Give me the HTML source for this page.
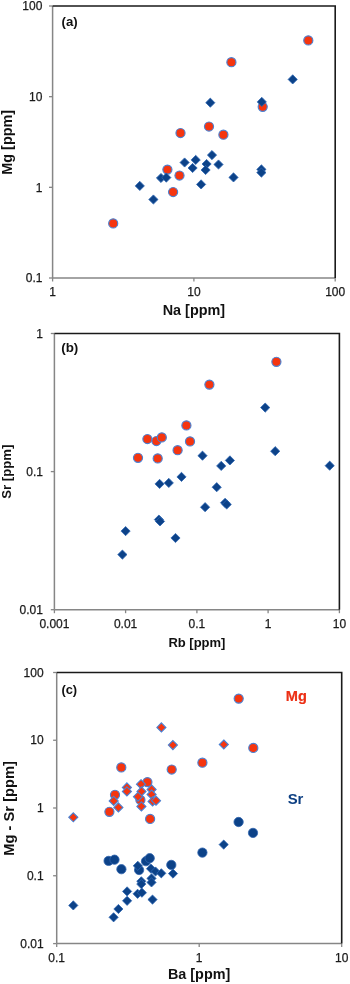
<!DOCTYPE html>
<html><head><meta charset="utf-8"><style>
html,body{margin:0;padding:0;background:#fff;}
body{width:350px;height:984px;overflow:hidden;}
svg{display:block;will-change:transform;}
.t{font-family:"Liberation Sans",sans-serif;font-size:12px;fill:#1a1a1a;stroke:#1a1a1a;stroke-width:0.25px;}
.b{font-family:"Liberation Sans",sans-serif;font-weight:bold;fill:#111;}
</style></head><body>
<svg width="350" height="984" viewBox="0 0 350 984">
<rect width="350" height="984" fill="#fff"/>
<path d="M52.6 6V278M52.6 278H335.2" stroke="#868686" stroke-width="1.5" fill="none"/>
<path d="M49.0 6H52.6" stroke="#868686" stroke-width="1.3"/>
<path d="M49.0 96.67H52.6" stroke="#868686" stroke-width="1.3"/>
<path d="M49.0 187.33H52.6" stroke="#868686" stroke-width="1.3"/>
<path d="M49.0 278H52.6" stroke="#868686" stroke-width="1.3"/>
<path d="M52.6 278V281.5" stroke="#868686" stroke-width="1.3"/>
<path d="M193.9 278V281.5" stroke="#868686" stroke-width="1.3"/>
<path d="M335.2 278V281.5" stroke="#868686" stroke-width="1.3"/>
<path d="M52.6 6H335.2V278" stroke="#1a1a1a" stroke-width="1.6" fill="none"/>
<text x="42.4" y="10.2" text-anchor="end" class="t">100</text>
<text x="42.4" y="100.87" text-anchor="end" class="t">10</text>
<text x="42.4" y="191.53" text-anchor="end" class="t">1</text>
<text x="42.4" y="282.2" text-anchor="end" class="t">0.1</text>
<text x="52.6" y="296.3" text-anchor="middle" class="t">1</text>
<text x="193.9" y="296.3" text-anchor="middle" class="t">10</text>
<text x="335.2" y="296.3" text-anchor="middle" class="t">100</text>
<circle cx="113.2" cy="223.4" r="4.55" fill="#F5350F" stroke="#4A80D2" stroke-width="1.15"/><circle cx="167.4" cy="169.6" r="4.55" fill="#F5350F" stroke="#4A80D2" stroke-width="1.15"/><circle cx="173.1" cy="192.0" r="4.55" fill="#F5350F" stroke="#4A80D2" stroke-width="1.15"/><circle cx="179.5" cy="175.5" r="4.55" fill="#F5350F" stroke="#4A80D2" stroke-width="1.15"/><circle cx="180.5" cy="133.0" r="4.55" fill="#F5350F" stroke="#4A80D2" stroke-width="1.15"/><circle cx="209.0" cy="126.5" r="4.55" fill="#F5350F" stroke="#4A80D2" stroke-width="1.15"/><circle cx="223.4" cy="134.7" r="4.55" fill="#F5350F" stroke="#4A80D2" stroke-width="1.15"/><circle cx="231.4" cy="62.2" r="4.55" fill="#F5350F" stroke="#4A80D2" stroke-width="1.15"/><circle cx="262.7" cy="106.8" r="4.55" fill="#F5350F" stroke="#4A80D2" stroke-width="1.15"/><circle cx="308.3" cy="40.4" r="4.55" fill="#F5350F" stroke="#4A80D2" stroke-width="1.15"/><path d="M139.8 181.30L144.40 185.9L139.8 190.50L135.20 185.9Z" fill="#0C4288" stroke="#2D66B2" stroke-width="0.8"/><path d="M153.4 194.90L158.00 199.5L153.4 204.10L148.80 199.5Z" fill="#0C4288" stroke="#2D66B2" stroke-width="0.8"/><path d="M161.0 173.40L165.60 178.0L161.0 182.60L156.40 178.0Z" fill="#0C4288" stroke="#2D66B2" stroke-width="0.8"/><path d="M166.3 173.00L170.90 177.6L166.3 182.20L161.70 177.6Z" fill="#0C4288" stroke="#2D66B2" stroke-width="0.8"/><path d="M184.6 157.90L189.20 162.5L184.6 167.10L180.00 162.5Z" fill="#0C4288" stroke="#2D66B2" stroke-width="0.8"/><path d="M195.7 155.30L200.30 159.9L195.7 164.50L191.10 159.9Z" fill="#0C4288" stroke="#2D66B2" stroke-width="0.8"/><path d="M192.6 163.40L197.20 168.0L192.6 172.60L188.00 168.0Z" fill="#0C4288" stroke="#2D66B2" stroke-width="0.8"/><path d="M206.6 159.40L211.20 164.0L206.6 168.60L202.00 164.0Z" fill="#0C4288" stroke="#2D66B2" stroke-width="0.8"/><path d="M205.6 165.40L210.20 170.0L205.6 174.60L201.00 170.0Z" fill="#0C4288" stroke="#2D66B2" stroke-width="0.8"/><path d="M212.0 150.50L216.60 155.1L212.0 159.70L207.40 155.1Z" fill="#0C4288" stroke="#2D66B2" stroke-width="0.8"/><path d="M218.5 159.90L223.10 164.5L218.5 169.10L213.90 164.5Z" fill="#0C4288" stroke="#2D66B2" stroke-width="0.8"/><path d="M233.5 172.80L238.10 177.4L233.5 182.00L228.90 177.4Z" fill="#0C4288" stroke="#2D66B2" stroke-width="0.8"/><path d="M201.1 179.80L205.70 184.4L201.1 189.00L196.50 184.4Z" fill="#0C4288" stroke="#2D66B2" stroke-width="0.8"/><path d="M210.3 98.10L214.90 102.7L210.3 107.30L205.70 102.7Z" fill="#0C4288" stroke="#2D66B2" stroke-width="0.8"/><path d="M292.7 74.80L297.30 79.4L292.7 84.00L288.10 79.4Z" fill="#0C4288" stroke="#2D66B2" stroke-width="0.8"/><path d="M261.4 164.80L266.00 169.4L261.4 174.00L256.80 169.4Z" fill="#0C4288" stroke="#2D66B2" stroke-width="0.8"/><path d="M261.4 168.00L266.00 172.6L261.4 177.20L256.80 172.6Z" fill="#0C4288" stroke="#2D66B2" stroke-width="0.8"/><path d="M261.8 97.30L266.40 101.9L261.8 106.50L257.20 101.9Z" fill="#0C4288" stroke="#2D66B2" stroke-width="0.8"/>
<path d="M54.4 333.5V609.7M54.4 609.7H339.4" stroke="#868686" stroke-width="1.5" fill="none"/>
<path d="M50.8 333.5H54.4" stroke="#868686" stroke-width="1.3"/>
<path d="M50.8 471.6H54.4" stroke="#868686" stroke-width="1.3"/>
<path d="M50.8 609.7H54.4" stroke="#868686" stroke-width="1.3"/>
<path d="M54.4 609.7V613.2" stroke="#868686" stroke-width="1.3"/>
<path d="M125.6 609.7V613.2" stroke="#868686" stroke-width="1.3"/>
<path d="M196.9 609.7V613.2" stroke="#868686" stroke-width="1.3"/>
<path d="M268.1 609.7V613.2" stroke="#868686" stroke-width="1.3"/>
<path d="M339.4 609.7V613.2" stroke="#868686" stroke-width="1.3"/>
<path d="M54.4 333.5H339.4V609.7" stroke="#1a1a1a" stroke-width="1.6" fill="none"/>
<text x="42.9" y="337.7" text-anchor="end" class="t">1</text>
<text x="42.9" y="475.8" text-anchor="end" class="t">0.1</text>
<text x="42.9" y="613.9000000000001" text-anchor="end" class="t">0.01</text>
<text x="54.4" y="627.5" text-anchor="middle" class="t">0.001</text>
<text x="125.6" y="627.5" text-anchor="middle" class="t">0.01</text>
<text x="196.9" y="627.5" text-anchor="middle" class="t">0.1</text>
<text x="268.1" y="627.5" text-anchor="middle" class="t">1</text>
<text x="339.4" y="627.5" text-anchor="middle" class="t">10</text>
<path d="M122.4 550.00L127.00 554.6L122.4 559.20L117.80 554.6Z" fill="#0C4288" stroke="#2D66B2" stroke-width="0.8"/><path d="M125.6 526.50L130.20 531.1L125.6 535.70L121.00 531.1Z" fill="#0C4288" stroke="#2D66B2" stroke-width="0.8"/><path d="M158.9 515.00L163.50 519.6L158.9 524.20L154.30 519.6Z" fill="#0C4288" stroke="#2D66B2" stroke-width="0.8"/><path d="M160.0 516.80L164.60 521.4L160.0 526.00L155.40 521.4Z" fill="#0C4288" stroke="#2D66B2" stroke-width="0.8"/><path d="M175.5 533.40L180.10 538.0L175.5 542.60L170.90 538.0Z" fill="#0C4288" stroke="#2D66B2" stroke-width="0.8"/><path d="M159.6 479.30L164.20 483.9L159.6 488.50L155.00 483.9Z" fill="#0C4288" stroke="#2D66B2" stroke-width="0.8"/><path d="M168.8 478.30L173.40 482.9L168.8 487.50L164.20 482.9Z" fill="#0C4288" stroke="#2D66B2" stroke-width="0.8"/><path d="M181.5 472.30L186.10 476.9L181.5 481.50L176.90 476.9Z" fill="#0C4288" stroke="#2D66B2" stroke-width="0.8"/><path d="M202.5 451.10L207.10 455.7L202.5 460.30L197.90 455.7Z" fill="#0C4288" stroke="#2D66B2" stroke-width="0.8"/><path d="M221.2 461.30L225.80 465.9L221.2 470.50L216.60 465.9Z" fill="#0C4288" stroke="#2D66B2" stroke-width="0.8"/><path d="M229.9 455.80L234.50 460.4L229.9 465.00L225.30 460.4Z" fill="#0C4288" stroke="#2D66B2" stroke-width="0.8"/><path d="M216.7 482.60L221.30 487.2L216.7 491.80L212.10 487.2Z" fill="#0C4288" stroke="#2D66B2" stroke-width="0.8"/><path d="M205.1 502.60L209.70 507.2L205.1 511.80L200.50 507.2Z" fill="#0C4288" stroke="#2D66B2" stroke-width="0.8"/><path d="M225.1 498.20L229.70 502.8L225.1 507.40L220.50 502.8Z" fill="#0C4288" stroke="#2D66B2" stroke-width="0.8"/><path d="M226.7 499.90L231.30 504.5L226.7 509.10L222.10 504.5Z" fill="#0C4288" stroke="#2D66B2" stroke-width="0.8"/><path d="M265.2 403.00L269.80 407.6L265.2 412.20L260.60 407.6Z" fill="#0C4288" stroke="#2D66B2" stroke-width="0.8"/><path d="M275.2 446.60L279.80 451.2L275.2 455.80L270.60 451.2Z" fill="#0C4288" stroke="#2D66B2" stroke-width="0.8"/><path d="M329.7 461.10L334.30 465.7L329.7 470.30L325.10 465.7Z" fill="#0C4288" stroke="#2D66B2" stroke-width="0.8"/><circle cx="138.0" cy="457.8" r="4.55" fill="#F5350F" stroke="#4A80D2" stroke-width="1.15"/><circle cx="147.4" cy="439.0" r="4.55" fill="#F5350F" stroke="#4A80D2" stroke-width="1.15"/><circle cx="156.4" cy="441.0" r="4.55" fill="#F5350F" stroke="#4A80D2" stroke-width="1.15"/><circle cx="161.8" cy="437.4" r="4.55" fill="#F5350F" stroke="#4A80D2" stroke-width="1.15"/><circle cx="157.7" cy="458.4" r="4.55" fill="#F5350F" stroke="#4A80D2" stroke-width="1.15"/><circle cx="177.6" cy="450.2" r="4.55" fill="#F5350F" stroke="#4A80D2" stroke-width="1.15"/><circle cx="186.4" cy="425.4" r="4.55" fill="#F5350F" stroke="#4A80D2" stroke-width="1.15"/><circle cx="190.0" cy="441.4" r="4.55" fill="#F5350F" stroke="#4A80D2" stroke-width="1.15"/><circle cx="209.4" cy="384.6" r="4.55" fill="#F5350F" stroke="#4A80D2" stroke-width="1.15"/><circle cx="276.4" cy="361.8" r="4.55" fill="#F5350F" stroke="#4A80D2" stroke-width="1.15"/>
<path d="M56.7 672.5V943.6M56.7 943.6H341.7" stroke="#868686" stroke-width="1.5" fill="none"/>
<path d="M53.1 672.5H56.7" stroke="#868686" stroke-width="1.3"/>
<path d="M53.1 740.25H56.7" stroke="#868686" stroke-width="1.3"/>
<path d="M53.1 808H56.7" stroke="#868686" stroke-width="1.3"/>
<path d="M53.1 875.75H56.7" stroke="#868686" stroke-width="1.3"/>
<path d="M53.1 943.6H56.7" stroke="#868686" stroke-width="1.3"/>
<path d="M56.7 943.6V947.1" stroke="#868686" stroke-width="1.3"/>
<path d="M199.2 943.6V947.1" stroke="#868686" stroke-width="1.3"/>
<path d="M341.7 943.6V947.1" stroke="#868686" stroke-width="1.3"/>
<path d="M56.7 672.5H341.7V943.6" stroke="#1a1a1a" stroke-width="1.6" fill="none"/>
<text x="43.6" y="676.7" text-anchor="end" class="t">100</text>
<text x="43.6" y="744.45" text-anchor="end" class="t">10</text>
<text x="43.6" y="812.2" text-anchor="end" class="t">1</text>
<text x="43.6" y="879.95" text-anchor="end" class="t">0.1</text>
<text x="43.6" y="947.8000000000001" text-anchor="end" class="t">0.01</text>
<text x="56.7" y="962.2" text-anchor="middle" class="t">0.1</text>
<text x="199.2" y="962.2" text-anchor="middle" class="t">1</text>
<text x="341.7" y="962.2" text-anchor="middle" class="t">10</text>
<circle cx="108.6" cy="860.9" r="4.65" fill="#0C4288" stroke="#3064AE" stroke-width="0.8"/><circle cx="114.5" cy="859.7" r="4.65" fill="#0C4288" stroke="#3064AE" stroke-width="0.8"/><circle cx="121.4" cy="869.2" r="4.65" fill="#0C4288" stroke="#3064AE" stroke-width="0.8"/><circle cx="146.0" cy="861.2" r="4.65" fill="#0C4288" stroke="#3064AE" stroke-width="0.8"/><circle cx="149.7" cy="858.2" r="4.65" fill="#0C4288" stroke="#3064AE" stroke-width="0.8"/><circle cx="139.1" cy="870.0" r="4.65" fill="#0C4288" stroke="#3064AE" stroke-width="0.8"/><circle cx="171.3" cy="864.9" r="4.65" fill="#0C4288" stroke="#3064AE" stroke-width="0.8"/><circle cx="202.4" cy="852.6" r="4.65" fill="#0C4288" stroke="#3064AE" stroke-width="0.8"/><circle cx="238.6" cy="822.0" r="4.65" fill="#0C4288" stroke="#3064AE" stroke-width="0.8"/><circle cx="253.0" cy="832.9" r="4.65" fill="#0C4288" stroke="#3064AE" stroke-width="0.8"/><path d="M73.3 900.80L77.90 905.4L73.3 910.00L68.70 905.4Z" fill="#0C4288" stroke="#2D66B2" stroke-width="0.8"/><path d="M113.6 912.70L118.20 917.3L113.6 921.90L109.00 917.3Z" fill="#0C4288" stroke="#2D66B2" stroke-width="0.8"/><path d="M118.4 904.40L123.00 909.0L118.4 913.60L113.80 909.0Z" fill="#0C4288" stroke="#2D66B2" stroke-width="0.8"/><path d="M127.1 886.80L131.70 891.4L127.1 896.00L122.50 891.4Z" fill="#0C4288" stroke="#2D66B2" stroke-width="0.8"/><path d="M127.1 896.20L131.70 900.8L127.1 905.40L122.50 900.8Z" fill="#0C4288" stroke="#2D66B2" stroke-width="0.8"/><path d="M137.6 889.20L142.20 893.8L137.6 898.40L133.00 893.8Z" fill="#0C4288" stroke="#2D66B2" stroke-width="0.8"/><path d="M141.9 888.10L146.50 892.7L141.9 897.30L137.30 892.7Z" fill="#0C4288" stroke="#2D66B2" stroke-width="0.8"/><path d="M137.8 861.20L142.40 865.8L137.8 870.40L133.20 865.8Z" fill="#0C4288" stroke="#2D66B2" stroke-width="0.8"/><path d="M141.3 876.70L145.90 881.3L141.3 885.90L136.70 881.3Z" fill="#0C4288" stroke="#2D66B2" stroke-width="0.8"/><path d="M141.3 879.50L145.90 884.1L141.3 888.70L136.70 884.1Z" fill="#0C4288" stroke="#2D66B2" stroke-width="0.8"/><path d="M151.0 864.10L155.60 868.7L151.0 873.30L146.40 868.7Z" fill="#0C4288" stroke="#2D66B2" stroke-width="0.8"/><path d="M155.5 866.90L160.10 871.5L155.5 876.10L150.90 871.5Z" fill="#0C4288" stroke="#2D66B2" stroke-width="0.8"/><path d="M161.3 868.70L165.90 873.3L161.3 877.90L156.70 873.3Z" fill="#0C4288" stroke="#2D66B2" stroke-width="0.8"/><path d="M151.5 873.80L156.10 878.4L151.5 883.00L146.90 878.4Z" fill="#0C4288" stroke="#2D66B2" stroke-width="0.8"/><path d="M151.5 877.80L156.10 882.4L151.5 887.00L146.90 882.4Z" fill="#0C4288" stroke="#2D66B2" stroke-width="0.8"/><path d="M152.5 895.00L157.10 899.6L152.5 904.20L147.90 899.6Z" fill="#0C4288" stroke="#2D66B2" stroke-width="0.8"/><path d="M173.0 869.00L177.60 873.6L173.0 878.20L168.40 873.6Z" fill="#0C4288" stroke="#2D66B2" stroke-width="0.8"/><path d="M223.7 840.00L228.30 844.6L223.7 849.20L219.10 844.6Z" fill="#0C4288" stroke="#2D66B2" stroke-width="0.8"/><circle cx="121.3" cy="767.4" r="4.55" fill="#F5350F" stroke="#4A80D2" stroke-width="1.15"/><circle cx="171.7" cy="769.5" r="4.55" fill="#F5350F" stroke="#4A80D2" stroke-width="1.15"/><circle cx="202.4" cy="762.7" r="4.55" fill="#F5350F" stroke="#4A80D2" stroke-width="1.15"/><circle cx="238.7" cy="698.6" r="4.55" fill="#F5350F" stroke="#4A80D2" stroke-width="1.15"/><circle cx="253.3" cy="747.9" r="4.55" fill="#F5350F" stroke="#4A80D2" stroke-width="1.15"/><circle cx="147.4" cy="782.1" r="4.55" fill="#F5350F" stroke="#4A80D2" stroke-width="1.15"/><circle cx="115.0" cy="794.8" r="4.55" fill="#F5350F" stroke="#4A80D2" stroke-width="1.15"/><circle cx="109.4" cy="811.8" r="4.55" fill="#F5350F" stroke="#4A80D2" stroke-width="1.15"/><circle cx="140.4" cy="799.9" r="4.55" fill="#F5350F" stroke="#4A80D2" stroke-width="1.15"/><circle cx="150.1" cy="818.9" r="4.55" fill="#F5350F" stroke="#4A80D2" stroke-width="1.15"/><path d="M73.3 812.80L77.80 817.3L73.3 821.80L68.80 817.3Z" fill="#F5350F" stroke="#4A80D2" stroke-width="1.15"/><path d="M113.7 796.40L118.20 800.9L113.7 805.40L109.20 800.9Z" fill="#F5350F" stroke="#4A80D2" stroke-width="1.15"/><path d="M118.4 802.90L122.90 807.4L118.4 811.90L113.90 807.4Z" fill="#F5350F" stroke="#4A80D2" stroke-width="1.15"/><path d="M126.9 782.90L131.40 787.4L126.9 791.90L122.40 787.4Z" fill="#F5350F" stroke="#4A80D2" stroke-width="1.15"/><path d="M126.9 786.90L131.40 791.4L126.9 795.90L122.40 791.4Z" fill="#F5350F" stroke="#4A80D2" stroke-width="1.15"/><path d="M141.0 779.70L145.50 784.2L141.0 788.70L136.50 784.2Z" fill="#F5350F" stroke="#4A80D2" stroke-width="1.15"/><path d="M141.5 786.90L146.00 791.4L141.5 795.90L137.00 791.4Z" fill="#F5350F" stroke="#4A80D2" stroke-width="1.15"/><path d="M138.0 792.20L142.50 796.7L138.0 801.20L133.50 796.7Z" fill="#F5350F" stroke="#4A80D2" stroke-width="1.15"/><path d="M141.4 801.90L145.90 806.4L141.4 810.90L136.90 806.4Z" fill="#F5350F" stroke="#4A80D2" stroke-width="1.15"/><path d="M151.6 784.90L156.10 789.4L151.6 793.90L147.10 789.4Z" fill="#F5350F" stroke="#4A80D2" stroke-width="1.15"/><path d="M151.6 790.00L156.10 794.5L151.6 799.00L147.10 794.5Z" fill="#F5350F" stroke="#4A80D2" stroke-width="1.15"/><path d="M152.6 796.90L157.10 801.4L152.6 805.90L148.10 801.4Z" fill="#F5350F" stroke="#4A80D2" stroke-width="1.15"/><path d="M156.0 796.20L160.50 800.7L156.0 805.20L151.50 800.7Z" fill="#F5350F" stroke="#4A80D2" stroke-width="1.15"/><path d="M161.4 722.90L165.90 727.4L161.4 731.90L156.90 727.4Z" fill="#F5350F" stroke="#4A80D2" stroke-width="1.15"/><path d="M172.9 740.60L177.40 745.1L172.9 749.60L168.40 745.1Z" fill="#F5350F" stroke="#4A80D2" stroke-width="1.15"/><path d="M223.8 740.00L228.30 744.5L223.8 749.00L219.30 744.5Z" fill="#F5350F" stroke="#4A80D2" stroke-width="1.15"/>

<text x="193.9" y="314.7" text-anchor="middle" class="b" font-size="14.4">Na [ppm]</text>
<text x="196.9" y="646.8" text-anchor="middle" class="b" font-size="13">Rb [ppm]</text>
<text x="199.1" y="978.6" text-anchor="middle" class="b" font-size="14.4">Ba [ppm]</text>
<text transform="translate(11.8 142.3) rotate(-90)" text-anchor="middle" class="b" font-size="14.4">Mg [ppm]</text>
<text transform="translate(11.4 471.7) rotate(-90)" text-anchor="middle" class="b" font-size="13.2">Sr [ppm]</text>
<text transform="translate(13.5 808.4) rotate(-90)" text-anchor="middle" class="b" font-size="14.7">Mg - Sr [ppm]</text>
<text x="61.5" y="26" class="b" font-size="13.2">(a)</text>
<text x="61.2" y="351.9" class="b" font-size="13.4">(b)</text>
<text x="61.4" y="694.1" class="b" font-size="12.9">(c)</text>
<text x="285.8" y="701.2" class="b" font-size="14.6" style="fill:#EC3015;stroke:#EC3015;stroke-width:0.2px">Mg</text>
<text x="287.7" y="804" class="b" font-size="14.9" style="fill:#0D3F82">Sr</text>

</svg>
</body></html>
